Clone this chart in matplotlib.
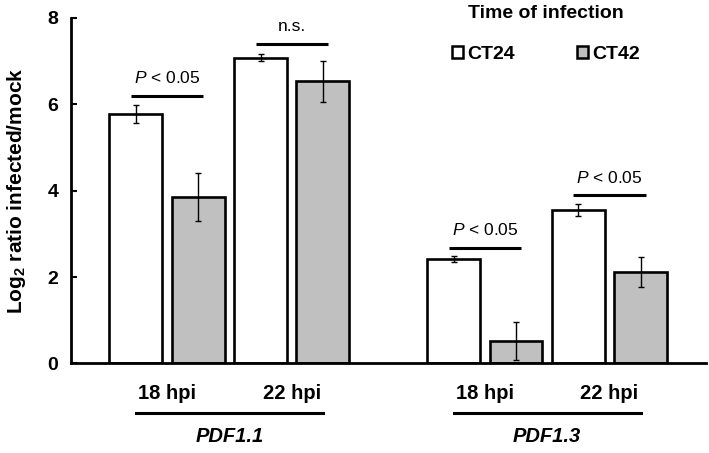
import numpy as np
import matplotlib
matplotlib.use("Agg")
import matplotlib.pyplot as plt
from matplotlib.patches import Patch
from matplotlib.transforms import blended_transform_factory

plt.rcParams['font.family'] = ['Liberation Sans', 'DejaVu Sans']
plt.rcParams['mathtext.fontset'] = 'custom'
plt.rcParams['mathtext.rm'] = 'Liberation Sans'
plt.rcParams['mathtext.it'] = 'Liberation Sans:italic'
plt.rcParams['mathtext.bf'] = 'Liberation Sans:bold'

# data
genes = ['PDF1.1', 'PDF1.3']
times = ['18 hpi', '22 hpi']
ct24 = [5.77, 7.08, 2.42, 3.55]
ct24_err = [0.21, 0.08, 0.07, 0.14]
ct42 = [3.85, 6.53, 0.53, 2.12]
ct42_err = [0.55, 0.48, 0.44, 0.35]
sig_labels = [r'$\it{P}$ < 0.05', 'n.s.', r'$\it{P}$ < 0.05', r'$\it{P}$ < 0.05']
sig_y = [6.2, 7.4, 2.68, 3.9]

# bar positions: pairs of bars, gene groups separated by a wider gap
pair_x = np.array([0, 2, 5.1, 7.1])
x24 = pair_x
x42 = pair_x + 1
w = 0.85

fig = plt.figure(figsize=(7.09, 4.53), dpi=100)
ax = fig.add_axes([0.1001, 0.1976, 0.8957, 0.7627])

ax.bar(x24, ct24, w, color='white', edgecolor='black', linewidth=1.9, zorder=2)
ax.bar(x42, ct42, w, color='#c0c0c0', edgecolor='black', linewidth=1.9, zorder=2)
ax.errorbar(x24, ct24, yerr=ct24_err, fmt='none', ecolor='black', elinewidth=1.0, capsize=2.5, capthick=1.0, zorder=3)
ax.errorbar(x42, ct42, yerr=ct42_err, fmt='none', ecolor='black', elinewidth=1.0, capsize=2.5, capthick=1.0, zorder=3)

ax.set_xlim(-1.043, 9.15)
ax.set_ylim(0, 8)
ax.set_yticks([0, 2, 4, 6, 8])
ax.set_xticks([])
for s in ['top', 'right']:
    ax.spines[s].set_visible(False)
ax.spines['left'].set_linewidth(2)
ax.spines['bottom'].set_linewidth(2)
ax.tick_params(axis='y', direction='in', length=4.5, width=1.5, labelsize=14, pad=9)
for t in ax.get_yticklabels():
    t.set_fontweight('bold')
ax.set_ylabel(r'Log$_\mathbf{2}$ ratio infected/mock', fontsize=15, fontweight='bold', labelpad=14)

# significance bars
mid = pair_x + 0.5
for m, yv, lab in zip(mid, sig_y, sig_labels):
    ax.plot([m - 0.58, m + 0.58], [yv, yv], color='black', lw=2.2, solid_capstyle='butt', clip_on=False)
    ax.text(m, yv + 0.22, lab, ha='center', va='bottom', fontsize=12.5)

# labels below the axis
tr = blended_transform_factory(ax.transData, ax.transAxes)
for m, lab in zip(mid, times * 2):
    ax.text(m, -0.087, lab, transform=tr, ha='center', va='center', fontsize=14.5, fontweight='bold')
for g, i in zip(genes, [0, 2]):
    x0, x1 = x24[i], x42[i + 1]
    ax.plot([x0, x1], [-0.142, -0.142], transform=tr, color='black', lw=2.2, clip_on=False)
    ax.text((x0 + x1) / 2, -0.212, g, transform=tr, ha='center', va='center', fontsize=14.5,
            fontweight='bold', fontstyle='italic')

# legend
handles = [Patch(facecolor='white', edgecolor='black', linewidth=1.8),
           Patch(facecolor='#c0c0c0', edgecolor='black', linewidth=1.8)]
leg = ax.legend(handles, ['CT24', 'CT42'], title='Time of infection', ncol=2, loc='center',
                bbox_to_anchor=(546 / 709, 0.925), bbox_transform=fig.transFigure,
                frameon=False, fontsize=14, title_fontsize=14, handlelength=0.57, handleheight=0.57,
                handletextpad=0.2, columnspacing=3.2, labelspacing=1.25, borderpad=0)
leg.get_title().set_fontweight('bold')
for t in leg.get_texts():
    t.set_fontweight('bold')

fig.savefig('out.png', dpi=100)
